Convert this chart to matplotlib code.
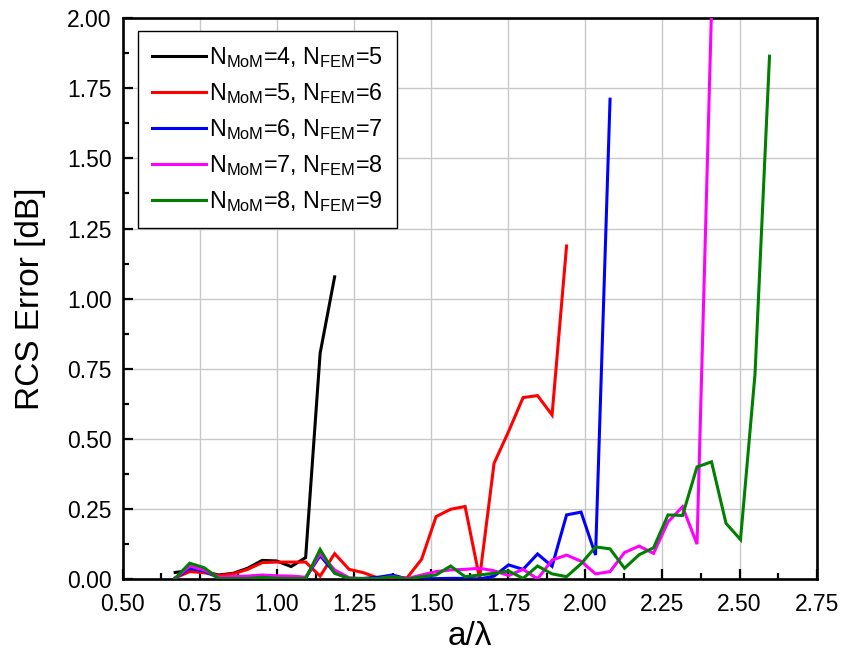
import matplotlib
matplotlib.use("Agg")
import matplotlib.pyplot as plt
from matplotlib.ticker import MultipleLocator, FormatStrFormatter

plt.rcParams['font.family'] = ['Liberation Sans', 'DejaVu Sans']
plt.rcParams['mathtext.fontset'] = 'custom'
plt.rcParams['mathtext.rm'] = 'Liberation Sans'
plt.rcParams['mathtext.it'] = 'Liberation Sans:italic'
plt.rcParams['mathtext.bf'] = 'Liberation Sans:bold'

# electrical size a/lambda
a_over_lambda = [0.670, 0.717, 0.764, 0.811, 0.858, 0.905, 0.952, 0.999, 1.046, 1.093,
                 1.140, 1.187, 1.234, 1.281, 1.328, 1.375, 1.422, 1.469, 1.516, 1.563,
                 1.610, 1.657, 1.704, 1.751, 1.798, 1.845, 1.892, 1.939, 1.986, 2.033,
                 2.080, 2.127, 2.174, 2.221, 2.268, 2.315, 2.362, 2.409, 2.456, 2.503,
                 2.550, 2.597]

# RCS error [dB] for each (N_MoM, N_FEM) pair
err_4_5 = [0.025, 0.032, 0.028, 0.016, 0.022, 0.040, 0.068, 0.066, 0.046, 0.078,
           0.806, 1.078]
err_5_6 = [0.006, 0.028, 0.024, 0.014, 0.020, 0.036, 0.060, 0.062, 0.062, 0.062,
           0.012, 0.092, 0.036, 0.024, 0.005, 0.004, 0.006, 0.072, 0.224, 0.250,
           0.260, 0.004, 0.414, 0.527, 0.648, 0.655, 0.586, 1.188]
err_6_7 = [0.004, 0.040, 0.030, 0.006, 0.008, 0.010, 0.014, 0.010, 0.010, 0.006,
           0.085, 0.024, 0.003, 0.004, 0.008, 0.016, 0.002, 0.003, 0.003, 0.004,
           0.004, 0.002, 0.012, 0.052, 0.036, 0.091, 0.047, 0.230, 0.240, 0.087,
           1.711]
err_7_8 = [0.004, 0.048, 0.034, 0.008, 0.010, 0.012, 0.016, 0.013, 0.012, 0.008,
           0.092, 0.034, 0.006, 0.003, 0.003, 0.010, 0.003, 0.016, 0.028, 0.034,
           0.036, 0.040, 0.031, 0.014, 0.036, 0.002, 0.069, 0.087, 0.065, 0.020,
           0.028, 0.096, 0.119, 0.093, 0.205, 0.259, 0.126, 2.030]
err_8_9 = [0.004, 0.058, 0.042, 0.003, 0.003, 0.003, 0.008, 0.004, 0.003, 0.003,
           0.107, 0.022, 0.004, 0.003, 0.003, 0.010, 0.001, 0.010, 0.016, 0.048,
           0.010, 0.016, 0.022, 0.030, 0.004, 0.048, 0.020, 0.010, 0.056, 0.116,
           0.109, 0.040, 0.088, 0.113, 0.230, 0.228, 0.401, 0.419, 0.200, 0.142,
           0.732, 1.864]

series = [err_4_5, err_5_6, err_6_7, err_7_8, err_8_9]
labels = [r'N$_{\mathrm{MoM}}$=4, N$_{\mathrm{FEM}}$=5',
          r'N$_{\mathrm{MoM}}$=5, N$_{\mathrm{FEM}}$=6',
          r'N$_{\mathrm{MoM}}$=6, N$_{\mathrm{FEM}}$=7',
          r'N$_{\mathrm{MoM}}$=7, N$_{\mathrm{FEM}}$=8',
          r'N$_{\mathrm{MoM}}$=8, N$_{\mathrm{FEM}}$=9']
colors = ['#000000', '#ff0000', '#0000ff', '#ff00ff', '#008000']

fig = plt.figure(figsize=(8.43, 6.55), dpi=100)
ax = fig.add_axes([0.1456, 0.1153, 0.8232, 0.8572])

for vals, lab, col in zip(series, labels, colors):
    ax.plot(a_over_lambda[:len(vals)], vals, color=col, lw=2.2, label=lab,
            solid_joinstyle='miter', zorder=3)

ax.set_xlim(0.5, 2.75)
ax.set_ylim(0.0, 2.0)
ax.xaxis.set_major_locator(MultipleLocator(0.25))
ax.xaxis.set_minor_locator(MultipleLocator(0.125))
ax.yaxis.set_major_locator(MultipleLocator(0.25))
ax.yaxis.set_minor_locator(MultipleLocator(0.125))
ax.xaxis.set_major_formatter(FormatStrFormatter('%.2f'))
ax.yaxis.set_major_formatter(FormatStrFormatter('%.2f'))

ax.grid(True, which='major', color='#c8c8c8', lw=1.0, zorder=0)
ax.set_axisbelow(True)

ax.tick_params(which='both', direction='in', top=False, right=False,
               labelsize=16.5, width=1.6)
ax.tick_params(axis='x', which='major', pad=10)
ax.tick_params(axis='y', which='major', pad=8)
ax.tick_params(which='major', length=7)
ax.tick_params(which='minor', length=4)
for sp in ax.spines.values():
    sp.set_linewidth(1.9)

ax.set_xlabel('a/λ', fontsize=24, labelpad=3)
ax.set_ylabel('RCS Error [dB]', fontsize=24, labelpad=15)

leg = ax.legend(loc='upper left', bbox_to_anchor=(0.022, 0.977), fontsize=16.8,
                frameon=True, fancybox=False, edgecolor='black', framealpha=1,
                borderpad=0.6, labelspacing=0.48, handlelength=2.3,
                handletextpad=0.15, borderaxespad=0.0)
leg.get_frame().set_linewidth(1.0)

fig.savefig('out.png', dpi=100)
